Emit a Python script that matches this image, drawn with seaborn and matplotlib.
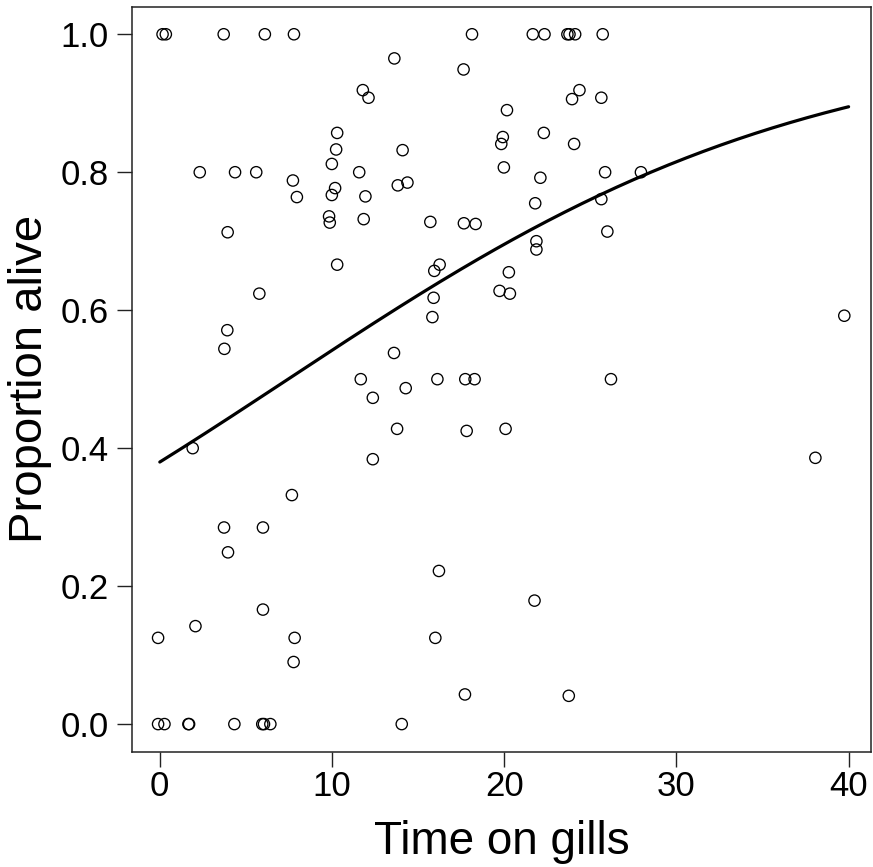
import numpy as np
import pandas as pd
import matplotlib
matplotlib.use("Agg")
import matplotlib.pyplot as plt
import seaborn as sns

# Observed proportion of fish alive against time spent on gills
time_on_gills = [
    0.16, 0.35, 3.71, 6.1, 7.79, 18.13, 21.66, 22.34, 23.67, 23.79, 24.12, 25.72,
    13.62, 17.64,
    11.79, 12.12, 24.37, 23.94, 25.64,
    20.16,
    10.3, 22.3,
    19.92, 19.83, 24.06,
    10.24, 14.1,
    9.99, 19.98,
    2.32, 4.37, 5.6, 11.58, 25.86, 27.94,
    22.1, 7.73, 14.38, 13.82, 10.18,
    9.99, 7.96, 11.94, 21.8, 25.64,
    9.83, 9.87, 11.84, 15.71, 17.66, 18.34,
    3.94, 25.99,
    21.87, 21.87,
    10.3, 16.25, 15.94, 20.27,
    19.73, 20.33, 5.78, 15.9,
    15.83, 39.75,
    3.92, 3.75, 13.6,
    11.67, 16.12, 17.74, 18.28, 26.2,
    14.28, 12.37,
    13.78, 17.82, 20.08,
    1.91, 12.37, 38.07,
    7.67,
    3.73, 5.99, 3.96,
    16.21, 21.76, 5.99,
    2.07, -0.1, 7.83, 16.0,
    7.77, 17.72, 23.75,
    -0.1, 0.27, 1.66, 1.7, 4.33, 5.95, 6.05, 6.42, 14.05,
]
proportion_alive = [
    1.0, 1.0, 1.0, 1.0, 1.0, 1.0, 1.0, 1.0, 1.0, 1.0, 1.0, 1.0,
    0.965, 0.949,
    0.919, 0.908, 0.919, 0.906, 0.908,
    0.89,
    0.857, 0.857,
    0.851, 0.841, 0.841,
    0.833, 0.832,
    0.812, 0.807,
    0.80, 0.80, 0.80, 0.80, 0.80, 0.80,
    0.792, 0.788, 0.785, 0.781, 0.777,
    0.767, 0.764, 0.765, 0.755, 0.761,
    0.736, 0.727, 0.732, 0.728, 0.726, 0.725,
    0.713, 0.714,
    0.70, 0.688,
    0.666, 0.666, 0.657, 0.655,
    0.628, 0.624, 0.624, 0.618,
    0.59, 0.592,
    0.571, 0.544, 0.538,
    0.50, 0.50, 0.50, 0.50, 0.50,
    0.487, 0.473,
    0.428, 0.425, 0.428,
    0.40, 0.384, 0.386,
    0.332,
    0.285, 0.285, 0.249,
    0.222, 0.179, 0.166,
    0.142, 0.125, 0.125, 0.125,
    0.09, 0.043, 0.041,
    0.0, 0.0, 0.0, 0.0, 0.0, 0.0, 0.0, 0.0, 0.0,
]

# Fitted logistic regression coefficients (logit scale)
intercept = -0.49
slope = 0.0658
fit_range = (0.0, 40.0)

x_ticks = [0, 10, 20, 30, 40]
y_ticks = [0.0, 0.2, 0.4, 0.6, 0.8, 1.0]

obs = pd.DataFrame({"time": time_on_gills, "alive": proportion_alive})
grid = np.linspace(fit_range[0], fit_range[1], 200)
fit = pd.DataFrame({"time": grid,
                    "alive": 1.0 / (1.0 + np.exp(-(intercept + slope * grid)))})

sns.set_style("white")
plt.rcParams["font.family"] = ["Liberation Sans", "DejaVu Sans"]
plt.rcParams["axes.labelcolor"] = "black"
plt.rcParams["text.color"] = "black"

fig = plt.figure(figsize=(8.73, 8.67), dpi=100)
ax = fig.add_axes([0.1509, 0.133, 0.8468, 0.8593])

sns.scatterplot(data=obs, x="time", y="alive", ax=ax, marker="o",
                s=66, facecolor="none", edgecolor="black", linewidth=0.95,
                legend=False)
sns.lineplot(data=fit, x="time", y="alive", ax=ax, color="black",
             linewidth=2.3, legend=False)

ax.set_xlim(-1.63, 41.3)
ax.set_ylim(-0.04, 1.04)
ax.set_xticks(x_ticks)
ax.set_xticklabels([str(t) for t in x_ticks])
ax.set_yticks(y_ticks)
ax.set_yticklabels([f"{t:.1f}" for t in y_ticks])
ax.tick_params(axis="both", which="major", bottom=True, left=True,
               direction="out", length=10.5, width=1.0, color="#222222",
               labelsize=25, labelcolor="black")
ax.tick_params(axis="x", pad=3)
ax.tick_params(axis="y", pad=6)

for side in ["top", "right", "bottom", "left"]:
    ax.spines[side].set_visible(True)
    ax.spines[side].set_color("#222222")
    ax.spines[side].set_linewidth(1.1)

ax.set_xlabel("Time on gills", fontsize=33, labelpad=12)
ax.set_ylabel("Proportion alive", fontsize=34, labelpad=6)

fig.savefig("out.png", dpi=100, facecolor="white")
